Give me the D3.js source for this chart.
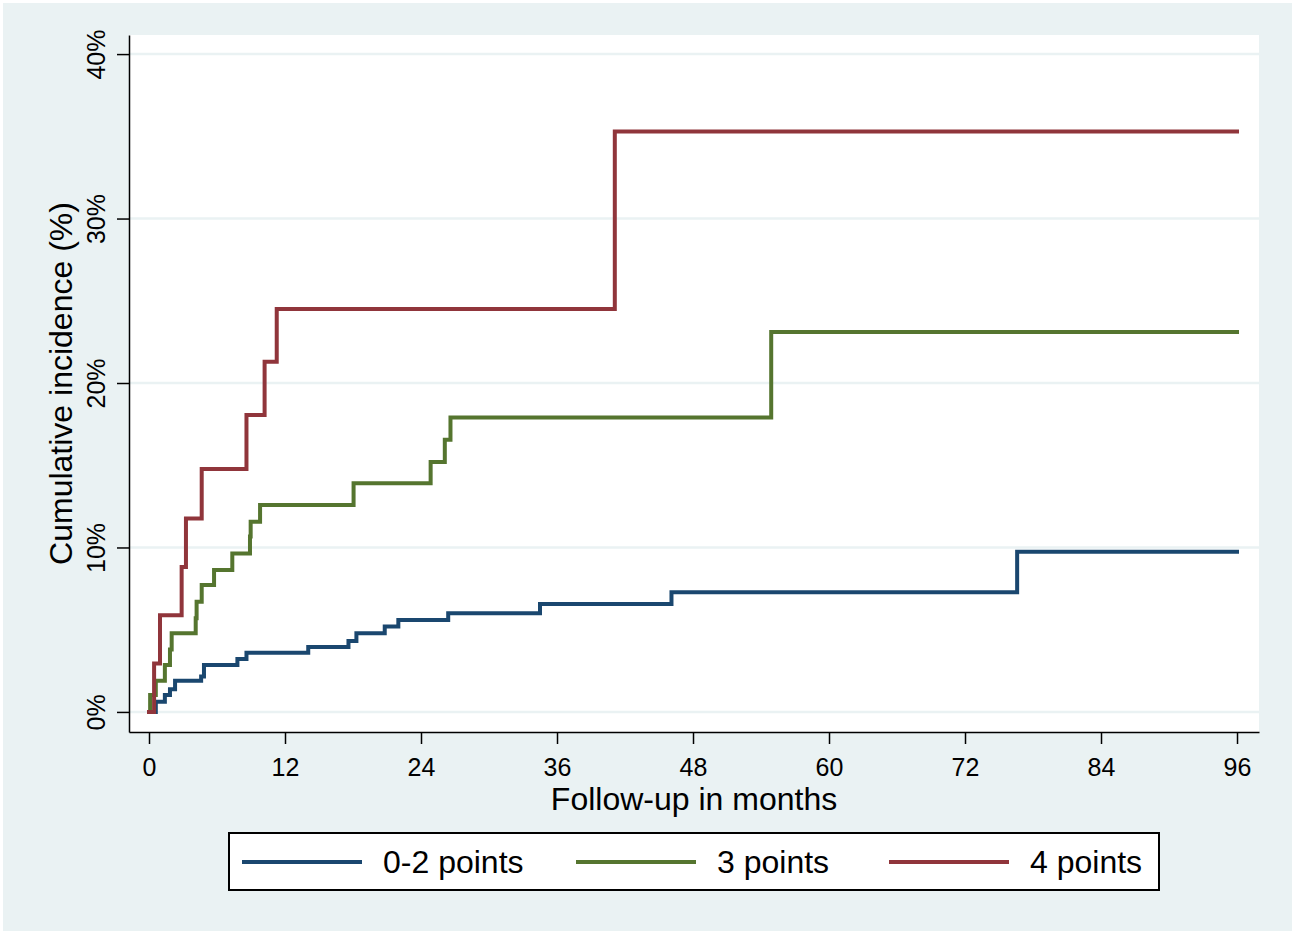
<!DOCTYPE html>
<html>
<head>
<meta charset="utf-8">
<script src="https://d3js.org/d3.v7.min.js"></script>
<style>
  body { margin: 0; background: #ffffff; }
  svg text { font-family: "Liberation Sans", Arial, sans-serif; fill: #000; }
</style>
</head>
<body>
<svg id="drawing_region"></svg>
<script>
// follow-up time (months) and cumulative incidence (%)
const groups = ["0-2 points", "3 points", "4 points"];
const colors = ["#1a476f", "#55752f", "#90353b"];

const months_low = [0, 0.6, 1.4, 1.85, 2.3, 4.6, 4.85, 7.8, 8.6, 14.05, 17.6, 18.3, 20.8, 22.0, 26.4, 34.5, 46.1, 76.6, 96];
const cuminc_low = [0, 0.62, 1.03, 1.38, 1.9, 2.15, 2.86, 3.22, 3.6, 3.95, 4.32, 4.78, 5.19, 5.59, 6.0, 6.57, 7.28, 9.74, 9.74];

const months_mid = [0, 0.1, 0.6, 1.4, 1.85, 2.0, 4.12, 4.2, 4.65, 5.74, 7.35, 8.91, 8.97, 9.8, 18.05, 24.85, 26.1, 26.6, 54.9, 96];
const cuminc_mid = [0, 1.03, 1.9, 2.86, 3.8, 4.78, 5.69, 6.7, 7.72, 8.63, 9.64, 10.66, 11.57, 12.58, 13.9, 15.2, 16.55, 17.9, 23.1, 23.1];

const months_high = [0, 0.45, 0.97, 2.88, 3.26, 4.65, 8.6, 10.2, 11.27, 41.1, 96];
const cuminc_high = [0, 2.94, 5.88, 8.82, 11.76, 14.77, 18.05, 21.3, 24.5, 35.3, 35.3];

const xticks = [0, 12, 24, 36, 48, 60, 72, 84, 96];
const yticks = [0, 10, 20, 30, 40];

const series = [
    { name: groups[0], color: colors[0], values: months_low.map((m, i) => ({ x: m, y: cuminc_low[i] })) },
    { name: groups[1], color: colors[1], values: months_mid.map((m, i) => ({ x: m, y: cuminc_mid[i] })) },
    { name: groups[2], color: colors[2], values: months_high.map((m, i) => ({ x: m, y: cuminc_high[i] })) }
];

const W = 1299, H = 933;
const margin = { top: 35, right: 40, bottom: 201, left: 129 };
const inner_width = W - margin.left - margin.right;
const inner_height = H - margin.top - margin.bottom;

const svg = d3.select('#drawing_region')
    .attr('width', W)
    .attr('height', H);

// outer graph region
svg.append('rect')
    .attr('x', 3).attr('y', 3)
    .attr('width', 1289).attr('height', 928)
    .attr('fill', '#eaf2f3');

const chart = svg.append('g')
    .attr('transform', `translate(${margin.left}, ${margin.top})`);

chart.append('rect')
    .attr('width', inner_width)
    .attr('height', inner_height)
    .attr('fill', '#ffffff');

// Stata style: a bit of room round the data range
const xscale = d3.scaleLinear()
    .domain([-1.765, 97.94])
    .range([0, inner_width]);

const yscale = d3.scaleLinear()
    .domain([-1.22, 41.16])
    .range([inner_height, 0]);

// grid lines
chart.append('g')
    .selectAll('line')
    .data(yticks)
    .join('line')
    .attr('x1', 0)
    .attr('x2', inner_width)
    .attr('y1', d => yscale(d))
    .attr('y2', d => yscale(d))
    .attr('stroke', '#eaf2f3')
    .attr('stroke-width', 2.5);

// curves
const line = d3.line()
    .x(d => xscale(d.x))
    .y(d => yscale(d.y))
    .curve(d3.curveStepAfter);

chart.append('g')
    .selectAll('path')
    .data(series)
    .join('path')
    .attr('d', d => line(d.values))
    .attr('fill', 'none')
    .attr('stroke', d => d.color)
    .attr('stroke-width', 4)
    .attr('stroke-linejoin', 'miter')
    .attr('stroke-linecap', 'square');

// axes
const xaxis_group = chart.append('g')
    .attr('transform', `translate(0, ${inner_height})`)
    .call(d3.axisBottom(xscale).tickValues(xticks).tickSize(12).tickSizeOuter(0).tickPadding(14));

xaxis_group.selectAll('text')
    .attr('font-size', 25);

const yaxis_group = chart.append('g')
    .call(d3.axisLeft(yscale).tickValues(yticks).tickSize(12).tickSizeOuter(0).tickFormat(d => d + '%'));

yaxis_group.selectAll('text')
    .attr('font-size', 25)
    .attr('transform', 'rotate(-90)')
    .attr('text-anchor', 'middle')
    .attr('x', 0)
    .attr('y', -24)
    .attr('dy', 0);

chart.selectAll('.domain, .tick line')
    .attr('stroke', '#000')
    .attr('stroke-width', 1.5);

// axis titles
chart.append('text')
    .attr('x', inner_width / 2 + 0)
    .attr('y', inner_height + 78)
    .attr('text-anchor', 'middle')
    .attr('font-size', 32)
    .text('Follow-up in months');

chart.append('text')
    .attr('transform', `translate(${-57}, ${inner_height / 2}) rotate(-90)`)
    .attr('text-anchor', 'middle')
    .attr('font-size', 32)
    .text('Cumulative incidence (%)');

// legend
const legend = svg.append('g')
    .attr('transform', 'translate(229, 833)');

legend.append('rect')
    .attr('width', 930)
    .attr('height', 57)
    .attr('fill', '#ffffff')
    .attr('stroke', '#000')
    .attr('stroke-width', 2);

const legend_x = [13, 347, 660];

const item = legend.selectAll('g.item')
    .data(series)
    .join('g')
    .attr('class', 'item')
    .attr('transform', (d, i) => `translate(${legend_x[i]}, 0)`);

item.append('line')
    .attr('x1', 0).attr('x2', 120)
    .attr('y1', 29).attr('y2', 29)
    .attr('stroke', d => d.color)
    .attr('stroke-width', 4);

item.append('text')
    .attr('x', 141)
    .attr('y', 40)
    .attr('font-size', 32)
    .text(d => d.name);
</script>
</body>
</html>
